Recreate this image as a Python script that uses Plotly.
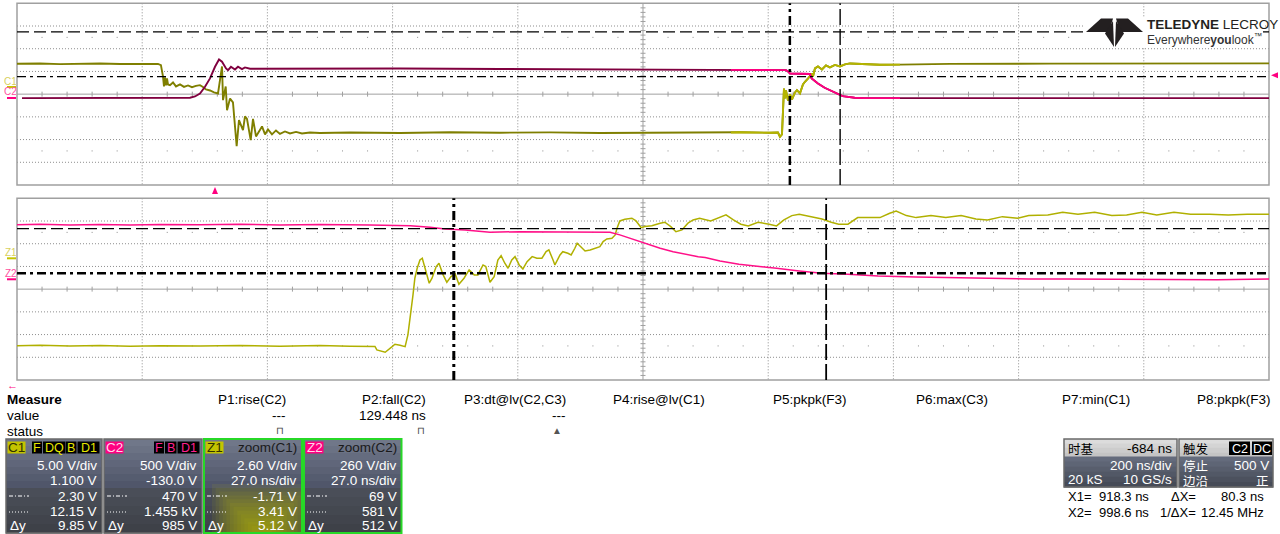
import plotly.graph_objects as go

W, H = 1280, 534
FONT = "Liberation Sans, Arial, sans-serif"
CJK = "Noto Sans CJK SC, Liberation Sans, sans-serif"

# ---------------- waveform data ----------------
# Top panel: C1 (V) and C2 (V) versus time (ns, trigger at 0)
c1_t = [-316.3, -279.6, -247.6, -215.7, -183.7, -151.8, -119.8, -91.1, -86.4, -83.1,
        -81.5, -79.9, -78.3, -76.7, -75.1, -71.9, -67.1, -62.3, -55.9, -49.5,
        -43.1, -36.8, -30.4, -24.0, -19.2, -14.4, -8.0, -1.6, 4.8, 8.0,
        11.2, 12.8, 17.1, 19.2, 24.0, 28.7, 34.6, 38.3, 44.7, 47.9,
        51.1, 57.0, 60.7, 65.5, 68.7, 75.1, 79.9, 84.6, 91.0, 97.4,
        103.8, 111.8, 119.8, 129.4, 138.9, 151.7, 167.7, 215.6, 295.5, 375.4,
        455.2, 535.1, 615.0, 694.8, 774.7, 824.2, 838.6, 886.5, 899.3, 902.5,
        905.7, 908.9, 910.5, 912.1, 915.3, 918.5, 921.7, 926.5, 929.6, 934.4,
        939.2, 942.4, 947.5, 953.1, 955.2, 958.4, 963.2, 969.6, 976.0, 982.3,
        990.3, 998.3, 1006.3, 1014.3, 1062.2, 1094.2, 1174.0, 1333.8, 1493.5, 1683.7]
c1_v = [5.13, 5.2, 5.05, 5.13, 5.2, 5.09, 5.13, 5.09, 4.83, 2.34,
        0.14, 2.12, 0.36, 1.9, 0.58, 0.42, 1.02, 0.14, 0.58, 0.03,
        0.36, -0.02, 0.25, 0.42, 0.03, -0.52, -0.75, -1.19, -1.41, 1.46,
        4.54, -2.88, 0.14, -5.08, -2.51, -3.39, -13.01, -7.29, -9.49, -6.47,
        -7.01, -11.69, -7.01, -10.87, -10.21, -8.67, -10.43, -9.33, -10.43, -9.55,
        -10.32, -9.77, -10.21, -9.88, -10.21, -9.99, -10.1, -10.0, -10.1, -9.95,
        -10.05, -9.98, -10.1, -10.0, -10.05, -10.0, -9.95, -10.05, -10.0, -10.94,
        -10.43, -0.31, -2.51, -0.75, -2.95, -1.63, -2.73, -1.19, -0.68, -1.41,
        0.58, 1.17, 1.9, 3.0, 2.34, 4.1, 4.54, 3.88, 4.76, 4.32,
        4.87, 4.54, 4.98, 5.2, 4.9, 4.95, 5.1, 5.15, 5.2, 5.22]

c2_t = [-308.3, -247.6, -183.7, -119.8, -55.9, -39.9, -32.0, -24.0, -16.0, -8.0,
        0.0, 6.4, 11.2, 17.6, 20.8, 25.5, 31.9, 36.7, 43.1, 47.9,
        55.9, 135.8, 295.5, 455.2, 615.0, 774.7, 824.2, 912.1, 915.3, 918.5,
        934.4, 950.3, 953.1, 963.2, 973.9, 986.7, 1002.6, 1021.8, 1037.8, 1094.2,
        1253.9, 1413.7, 1573.4, 1683.7]
c2_v = [-4, 0, -8, 0, -4, 5, 33, 99, 247, 430,
        687, 848, 797, 650, 612, 687, 628, 687, 635, 672,
        643, 650, 650, 639, 635, 621, 618, 612, 584, 540,
        533, 529, 430, 320, 225, 137, 40, 5, -4, -4,
        0, -6, -2, -4]

# Bottom panel: zoom traces Z1 (of C1) and Z2 (of C2)
z1_t = [824.1, 829.1, 835.5, 842.0, 848.5, 854.9, 863.6, 872.2, 880.8, 889.4,
        895.9, 901.3, 901.7, 903.5, 905.0, 905.6, 906.7, 907.8, 908.4, 909.1,
        909.5, 909.9, 910.4, 911.0, 911.5, 912.1, 913.0, 913.6, 914.5, 915.1,
        916.0, 916.8, 917.7, 918.6, 919.4, 920.5, 921.6, 922.7, 923.5, 924.6,
        925.2, 926.1, 927.0, 927.8, 928.5, 929.3, 930.0, 930.8, 931.5, 932.4,
        933.2, 934.1, 935.2, 936.2, 937.3, 938.2, 938.8, 939.7, 940.1, 941.2,
        941.8, 942.9, 943.6, 944.4, 944.9, 945.9, 946.6, 947.7, 949.0, 949.8,
        950.5, 951.3, 952.4, 953.1, 953.5, 954.1, 955.2, 956.7, 957.6, 958.7,
        959.5, 961.0, 962.8, 963.8, 965.1, 966.2, 967.5, 968.8, 969.9, 971.3,
        973.7, 975.3, 977.0, 978.6, 980.2, 981.8, 983.9, 986.3, 987.9, 989.5,
        991.2, 992.8, 995.2, 997.7, 999.7, 1001.3, 1003.3, 1005.4, 1007.4, 1010.2,
        1012.3, 1013.7, 1015.9, 1018.0, 1021.2, 1024.4, 1027.7, 1030.9, 1033.4, 1036.6,
        1039.9, 1042.3, 1046.4, 1049.6, 1052.9, 1056.5, 1060.2, 1063.4, 1066.7, 1069.9,
        1073.6, 1077.2, 1081.3, 1085.3, 1089.4, 1094.1]
z1_v = [-10.0, -9.95, -10.03, -9.98, -10.07, -10.0, -10.03, -9.98, -10.06, -9.99,
        -10.07, -10.09, -10.49, -10.75, -10.11, -9.84, -9.95, -10.11, -8.77, -6.11,
        -4.19, -2.28, -1.14, -0.19, 0.01, -1.14, -2.85, -2.28, -0.95, -0.56,
        -1.90, -2.74, -2.10, -1.79, -2.97, -2.28, -1.33, -1.90, -1.90, -0.76,
        -0.95, -2.74, -2.10, -0.19, 0.31, -0.56, -1.14, -0.19, 0.19, -0.76,
        -1.22, -0.38, 0.19, 0.01, 0.01, 0.76, 0.96, -0.19, -0.76, 0.39,
        0.76, 0.58, 0.39, 1.15, 1.73, 1.22, 0.84, 0.96, 1.15, 1.34,
        1.91, 2.22, 2.30, 2.68, 3.44, 4.28, 4.47, 4.59, 4.28, 3.51,
        3.63, 3.74, 4.02, 4.13, 3.63, 3.05, 3.25, 4.02, 4.39, 4.59,
        4.28, 4.59, 4.97, 4.39, 3.90, 3.71, 4.13, 3.90, 3.71, 4.39,
        4.89, 5.05, 4.77, 4.51, 4.13, 3.90, 3.90, 4.66, 4.66, 4.66,
        5.16, 5.42, 4.89, 4.66, 4.89, 4.66, 4.89, 4.51, 4.39, 4.77,
        4.59, 4.89, 4.97, 5.28, 5.05, 5.28, 4.89, 4.97, 5.28, 4.97,
        5.28, 5.05, 5.05, 4.97, 5.05, 5.05]

z2_t = [824.1, 829.1, 835.5, 842.0, 848.5, 854.9, 863.6, 872.2, 880.8, 889.4,
        900.2, 908.9, 913.2, 916.4, 920.7, 926.1, 932.6, 939.0, 945.5, 952.0,
        954.1, 956.3, 958.5, 960.6, 962.8, 965.6, 968.2, 971.0, 972.5, 975.7,
        979.8, 983.9, 987.9, 992.8, 997.7, 1003.3, 1009.8, 1017.9, 1026.0, 1034.2,
        1042.3, 1050.4, 1058.6, 1066.7, 1074.8, 1082.9, 1094.1]
z2_v = [625, 630, 622, 628, 620, 628, 624, 630, 622, 628,
        622, 614, 596, 576, 565, 539, 545, 545, 545, 539,
        508, 470, 431, 393, 355, 316, 287, 259, 248, 210,
        172, 153, 126, 95, 69, 58, 38, 27, 19, 12,
        4, 4, 0, 4, -4, -4, 4]

# ---------------- scope settings ----------------
TOP_T0, TOP_TDIV = -316.3, 200.0
ZOOM_T0, ZOOM_TDIV = 824.1, 27.0
C1_CENTER, C1_VDIV = -1.56, 5.0
C2_CENTER, C2_VDIV = 84.0, 500.0
Z1_CENTER, Z1_VDIV = -3.53, 2.6
Z2_CENTER, Z2_VDIV = -113.0, 260.0
CURSOR_T = [918.3, 998.6]
C1_CURSOR_V = [2.30, 12.15]
Z1_CURSOR_V = [-1.71, 3.41]
TRIG_LEVEL = 500.0
TRIG_T = 0.0

measure_names = ["P1:rise(C2)", "P2:fall(C2)", "P3:dt@lv(C2,C3)", "P4:rise@lv(C1)",
                 "P5:pkpk(F3)", "P6:max(C3)", "P7:min(C1)", "P8:pkpk(F3)"]
measure_values = ["---", "129.448 ns", "---", "", "", "", "", ""]
measure_status = ["pulse", "pulse", "warn", "", "", "", "", ""]

ch_labels = ["C1", "C2", "Z1", "Z2"]
ch_titles = ["", "", "zoom(C1)", "zoom(C2)"]
ch_flags = [["F", "DQ", "B", "D1"], ["F", "B", "D1"], [], []]
ch_scale = ["5.00 V/div", "500 V/div", "2.60 V/div", "260 V/div"]
ch_offset = ["1.100 V", "-130.0 V", "27.0 ns/div", "27.0 ns/div"]
ch_cur1 = ["2.30 V", "470 V", "-1.71 V", "69 V"]
ch_cur2 = ["12.15 V", "1.455 kV", "3.41 V", "581 V"]
ch_dy = ["9.85 V", "985 V", "5.12 V", "512 V"]

tb_title, tb_delay, tb_div, tb_samples, tb_rate = "时基", "-684 ns", "200 ns/div", "20 kS", "10 GS/s"
trig_title, trig_src, trig_mode, trig_level_txt, trig_type, trig_slope = "触发", ["C2", "DC"], "停止", "500 V", "边沿", "正"
cursor_rows = [("X1=", "918.3 ns", "ΔX=", "80.3 ns"), ("X2=", "998.6 ns", "1/ΔX=", "12.45 MHz")]

# colours
C1_DARK, C1_BRIGHT = "#7f7f00", "#b4b400"
C2_DARK, C2_BRIGHT = "#80003f", "#ff0080"
Z1_COL, Z2_COL = "#b0b000", "#ff1088"
YEL, PINK = "#c4c400", "#ff0080"

# ---------------- helpers ----------------
shapes, ann = [], []


def X(x):
    return x / W


def Y(y):
    return 1 - y / H


def P(x, y):
    return f"{X(x):.5f},{Y(y):.5f}"


def seg_path(segs):
    return "".join(f"M{P(a, b)}L{P(c, d)}" for a, b, c, d in segs)


def rect(x0, y0, x1, y1, fill=None, line=None, lw=1, layer="above", opacity=1):
    shapes.append(dict(type="rect", xref="paper", yref="paper", x0=X(x0), x1=X(x1), y0=Y(y1), y1=Y(y0),
                       fillcolor=fill if fill else "rgba(0,0,0,0)",
                       line=dict(color=line if line else "rgba(0,0,0,0)", width=lw if line else 0),
                       layer=layer, opacity=opacity))


def txt(x, y, s, size=13.5, color="black", anchor="left", family=FONT, **kw):
    ann.append(dict(x=X(x), y=Y(y), xref="paper", yref="paper", text=s, showarrow=False,
                    xanchor=anchor, yanchor="middle", font=dict(size=size, color=color, family=family), **kw))


def mix(c0, c1, f):
    a = [int(c0[i:i + 2], 16) for i in (1, 3, 5)]
    b = [int(c1[i:i + 2], 16) for i in (1, 3, 5)]
    return "#" + "".join(f"{round(a[k] + (b[k] - a[k]) * f):02x}" for k in range(3))


def grad(x0, y0, x1, y1, c0, c1, n=8):
    for i in range(n):
        f = i / (n - 1) if n > 1 else 0
        rect(x0, y0 + (y1 - y0) * i / n, x1, y0 + (y1 - y0) * (i + 1) / n + 0.6, fill=mix(c0, c1, f))


# ---------------- traces ----------------
fig = go.Figure()
zoom_end = ZOOM_T0 + 10 * ZOOM_TDIV


def in_zoom(ts, vs):
    idx = [i for i, t in enumerate(ts) if ZOOM_T0 - 0.5 <= t <= zoom_end + 0.5]
    return [ts[i] for i in idx], [vs[i] for i in idx]


fig.add_trace(go.Scatter(x=c1_t, y=c1_v, mode="lines", line=dict(color=C1_DARK, width=1.9),
                         xaxis="x", yaxis="y", hoverinfo="skip"))
fig.add_trace(go.Scatter(x=c2_t, y=c2_v, mode="lines", line=dict(color=C2_DARK, width=1.9),
                         xaxis="x", yaxis="y2", hoverinfo="skip"))
zt, zv = in_zoom(c1_t, c1_v)
fig.add_trace(go.Scatter(x=zt, y=zv, mode="lines", line=dict(color=C1_BRIGHT, width=1.9),
                         xaxis="x", yaxis="y", hoverinfo="skip"))
zt, zv = in_zoom(c2_t, c2_v)
fig.add_trace(go.Scatter(x=zt, y=zv, mode="lines", line=dict(color=C2_BRIGHT, width=1.9),
                         xaxis="x", yaxis="y2", hoverinfo="skip"))
fig.add_trace(go.Scatter(x=z2_t, y=z2_v, mode="lines", line=dict(color=Z2_COL, width=1.5),
                         xaxis="x2", yaxis="y4", hoverinfo="skip"))
fig.add_trace(go.Scatter(x=z1_t, y=z1_v, mode="lines", line=dict(color=Z1_COL, width=1.5),
                         xaxis="x2", yaxis="y3", hoverinfo="skip"))

# ---------------- grids ----------------
panels = [(17, 3.3, 1269, 185), (17, 198.3, 1269, 380)]
for (L, T, R, B) in panels:
    dx, dy = (R - L) / 10, (B - T) / 8
    dotted = [(L + i * dx, T, L + i * dx, B) for i in range(1, 10) if i != 5]
    dotted += [(L, T + j * dy, R, T + j * dy) for j in range(1, 8) if j != 4]
    shapes.append(dict(type="path", xref="paper", yref="paper", path=seg_path(dotted),
                       line=dict(color="#8c8c8c", width=1, dash="1px,2px"), layer="below"))
    cx, cy = L + 5 * dx, T + 4 * dy
    solid = [(cx, T, cx, B), (L, cy, R, cy)]
    solid += [(L + k * dx / 5, cy - 2.5, L + k * dx / 5, cy + 2.5) for k in range(1, 50) if k % 5]
    solid += [(cx - 2.5, T + k * dy / 5, cx + 2.5, T + k * dy / 5) for k in range(1, 40) if k % 5]
    shapes.append(dict(type="path", xref="paper", yref="paper", path=seg_path(solid),
                       line=dict(color="#a0a0a0", width=1), layer="below"))
    dots = []
    for yy in (T + 1.5 * dy, T + 6.5 * dy):
        dots += [(L + k * dx / 5 - 0.5, yy, L + k * dx / 5 + 0.5, yy) for k in range(1, 50) if k % 5]
    shapes.append(dict(type="path", xref="paper", yref="paper", path=seg_path(dots),
                       line=dict(color="#8c8c8c", width=1), layer="below"))
    rect(L, T, R, B, line="#a0a0a0", lw=1.5, layer="below")

# ---------------- cursors ----------------
DASHDOT = "9px,4px,3px,4px"
LONGDASH = "12px,5px"
shapes.append(dict(type="line", xref="x", yref="y domain", x0=CURSOR_T[0], x1=CURSOR_T[0], y0=0, y1=1,
                   line=dict(color="black", width=2.5, dash=DASHDOT), layer="above"))
shapes.append(dict(type="line", xref="x", yref="y domain", x0=CURSOR_T[1], x1=CURSOR_T[1], y0=0, y1=1,
                   line=dict(color="black", width=1.4, dash="16px,4px"), layer="above"))
shapes.append(dict(type="line", xref="x domain", yref="y", x0=0, x1=1, y0=C1_CURSOR_V[0], y1=C1_CURSOR_V[0],
                   line=dict(color="black", width=1.2, dash=DASHDOT), layer="above"))
shapes.append(dict(type="line", xref="x domain", yref="y", x0=0, x1=1, y0=C1_CURSOR_V[1], y1=C1_CURSOR_V[1],
                   line=dict(color="black", width=1.2, dash=LONGDASH), layer="above"))
shapes.append(dict(type="line", xref="x2", yref="y3 domain", x0=CURSOR_T[0], x1=CURSOR_T[0], y0=0, y1=1,
                   line=dict(color="black", width=3, dash=DASHDOT), layer="above"))
shapes.append(dict(type="line", xref="x2", yref="y3 domain", x0=CURSOR_T[1], x1=CURSOR_T[1], y0=0, y1=1,
                   line=dict(color="black", width=1.8, dash="16px,4px"), layer="above"))
shapes.append(dict(type="line", xref="x2 domain", yref="y3", x0=0, x1=1, y0=Z1_CURSOR_V[0], y1=Z1_CURSOR_V[0],
                   line=dict(color="black", width=2.5, dash=DASHDOT), layer="above"))
shapes.append(dict(type="line", xref="x2 domain", yref="y3", x0=0, x1=1, y0=Z1_CURSOR_V[1], y1=Z1_CURSOR_V[1],
                   line=dict(color="black", width=1.3, dash=LONGDASH), layer="above"))

# ---------------- logo ----------------
rect(1084, 17, 1263, 47.5, fill="white")
LOGO = "#231f20"
for pts in [[(1086, 32), (1101, 18.5), (1113, 18.5), (1109, 32)],
            [(1143, 32), (1128, 18.5), (1116, 18.5), (1120, 32)],
            [(1105, 33.5), (1113, 21), (1114, 47)],
            [(1124, 33.5), (1116, 21), (1115, 47)]]:
    path = "M" + "L".join(P(a, b) for a, b in pts) + "Z"
    shapes.append(dict(type="path", xref="paper", yref="paper", path=path, fillcolor=LOGO,
                       line=dict(width=0), layer="above"))
txt(1145, 24.5, "<b>TELEDYNE</b> LECROY", size=13.5, color=LOGO)
txt(1145, 39, "Everywhere<b>you</b>look<sup>™</sup>", size=12, color="#333333")

# ---------------- channel ground markers / trigger markers ----------------
for yref, col, lab in [("y", YEL, "C1"), ("y2", PINK, "C2"), ("y3", YEL, "Z1"), ("y4", PINK, "Z2")]:
    shapes.append(dict(type="line", xref="paper", yref=yref, x0=X(7), x1=X(16), y0=0, y1=0,
                       line=dict(color=col, width=2), layer="above"))
    ann.append(dict(x=X(10.5), y=0, xref="paper", yref=yref, text=lab, showarrow=False, yshift=6,
                    xanchor="center", yanchor="middle",
                    font=dict(size=10, color="#d8d060" if col == YEL else "#ff50a0", family=FONT)))

half = 3 * TOP_TDIV * 10 / 1252
shapes.append(dict(type="path", xref="x", yref="paper",
                   path=f"M{TRIG_T - half},{Y(194):.5f}L{TRIG_T + half},{Y(194):.5f}L{TRIG_T},{Y(187):.5f}Z",
                   fillcolor=PINK, line=dict(width=0), layer="above"))
dv = 3 * C2_VDIV / 22.7
shapes.append(dict(type="path", xref="paper", yref="y2",
                   path=f"M{X(1271):.5f},{TRIG_LEVEL}L{X(1278):.5f},{TRIG_LEVEL + dv}L{X(1278):.5f},{TRIG_LEVEL - dv}Z",
                   fillcolor=PINK, line=dict(width=0), layer="above"))
txt(12, 385, "←", size=11, color=PINK, anchor="center")

# ---------------- measurement table ----------------
txt(5, 399, "<b>Measure</b>")
txt(5, 415, "value")
txt(5, 431, "status")
col_right = [288, 428, 568, 707, 849, 990, 1132, 1273]
status_x = [280, 421, 557]
for i, name in enumerate(measure_names):
    txt(col_right[i], 399, name, anchor="right")
    if measure_values[i]:
        txt(col_right[i], 415, measure_values[i], anchor="right")
    if measure_status[i] == "pulse":
        txt(status_x[i], 430, "⊓", size=10, color="#444444", anchor="center")
    elif measure_status[i] == "warn":
        txt(status_x[i], 430, "▲", size=10, color="#555555", anchor="center")

# ---------------- channel descriptor boxes ----------------
box_x = [(6, 102), (104, 202), (204, 302), (304, 401.5)]
flag_pos = [[(32, 42), (43, 65.5), (66, 76.5), (77.5, 99.5)], [(154, 164), (165, 176.5), (177.5, 199.5)], [], []]
row_y = [465.5, 480.5, 496, 511, 525]
for i, (x0, x1) in enumerate(box_x):
    ccol = YEL if ch_labels[i] in ("C1", "Z1") else PINK
    grad(x0, 439, x1, 488, "#707789", "#50566a", 7)
    grad(x0, 488, x1, 533, "#4a4e58", "#3e4148", 5)
    if ch_labels[i] == "Z1":
        cxg, cyg = 262, 536
        for k in range(12):
            hw = 50 - k * 3.6
            hh = 52 - k * 3.8
            rect(max(x0 + 1, cxg - hw), cyg - hh, min(x1 - 1, cxg + hw), 532, fill="#c8c000", opacity=0.085)
    border = "#27d827" if ch_labels[i].startswith("Z") else "#6a6a6a"
    rect(x0, 439, x1, 533, line=border, lw=2 if ch_labels[i].startswith("Z") else 1.5)
    rect(x0 + 1.5, 441.5, x0 + 19.5, 453.5, fill=ccol)
    txt(x0 + 10.5, 447.5, ch_labels[i], size=13.5, color="#303000" if ccol == YEL else "#ffd6ea", anchor="center")
    for (fx0, fx1), fl in zip(flag_pos[i], ch_flags[i]):
        rect(fx0, 441.5, fx1, 453.5, fill="black")
        txt((fx0 + fx1) / 2, 447.5, fl, size=12.5, color="#e8e800" if ccol == YEL else "#ff2090", anchor="center")
    if ch_titles[i]:
        txt(x1 - 3, 447.5, ch_titles[i], size=13.5, color="#1a1a1a", anchor="right")
    for r, s in enumerate([ch_scale[i], ch_offset[i], ch_cur1[i], ch_cur2[i], ch_dy[i]]):
        txt(x1 - 3, row_y[r], s, size=13.5, color="white", anchor="right")
    shapes.append(dict(type="line", xref="paper", yref="paper", x0=X(x0 + 3), x1=X(x0 + 23), y0=Y(row_y[2]), y1=Y(row_y[2]),
                       line=dict(color="white", width=1, dash="4px,2px,1px,2px"), layer="above"))
    shapes.append(dict(type="line", xref="paper", yref="paper", x0=X(x0 + 3), x1=X(x0 + 23), y0=Y(row_y[3] + 1), y1=Y(row_y[3] + 1),
                       line=dict(color="white", width=1, dash="1px,2px"), layer="above"))
    txt(x0 + 2, row_y[4], "Δy", size=13.5, color="white")

# ---------------- timebase / trigger boxes ----------------
for (x0, x1) in [(1064, 1177), (1179, 1273)]:
    grad(x0, 439, x1, 456.5, "#dcdcdc", "#c4c4c4", 4)
    grad(x0, 456.5, x1, 487, "#646b7c", "#464b57", 6)
    rect(x0, 439, x1, 487, line="#6a6a6a", lw=1.5)
txt(1066, 448, tb_title, size=12.5, family=CJK)
txt(1174, 448, tb_delay, anchor="right")
txt(1174, 465, tb_div, color="white", anchor="right")
txt(1066, 479.5, tb_samples, color="white")
txt(1174, 479.5, tb_rate, color="white", anchor="right")
txt(1181, 448, trig_title, size=12.5, family=CJK)
for (fx0, fx1), s in zip([(1229, 1250), (1252, 1272)], trig_src):
    rect(fx0, 441.5, fx1, 455, fill="black")
    txt((fx0 + fx1) / 2, 448.5, s, size=12.5, color="white", anchor="center")
txt(1181, 465, trig_mode, size=12.5, color="white", family=CJK)
txt(1271, 465, trig_level_txt, color="white", anchor="right")
txt(1181, 480, trig_type, size=12.5, color="white", family=CJK)
txt(1271, 480, trig_slope, size=12.5, color="white", anchor="right", family=CJK)
for r, (a, b, c, d) in enumerate(cursor_rows):
    yy = 496.5 + r * 15.8
    txt(1066, yy, a, size=13)
    txt(1151, yy, b, size=13, anchor="right")
    txt(1198, yy, c, size=13, anchor="right")
    txt(1266, yy, d, size=13, anchor="right")

# ---------------- layout ----------------
dom_x = [17 / W, 1269 / W]
fig.update_layout(
    width=W, height=H, margin=dict(l=0, r=0, t=0, b=0),
    paper_bgcolor="white", plot_bgcolor="rgba(0,0,0,0)", showlegend=False,
    xaxis=dict(domain=dom_x, range=[TOP_T0, TOP_T0 + 10 * TOP_TDIV], visible=False, anchor="y", fixedrange=True),
    yaxis=dict(domain=[1 - 185 / H, 1 - 3.3 / H], range=[C1_CENTER - 4 * C1_VDIV, C1_CENTER + 4 * C1_VDIV],
               visible=False, anchor="x", fixedrange=True),
    yaxis2=dict(overlaying="y", range=[C2_CENTER - 4 * C2_VDIV, C2_CENTER + 4 * C2_VDIV], visible=False,
                anchor="x", fixedrange=True),
    xaxis2=dict(domain=dom_x, range=[ZOOM_T0, ZOOM_T0 + 10 * ZOOM_TDIV], visible=False, anchor="y3", fixedrange=True),
    yaxis3=dict(domain=[1 - 380 / H, 1 - 198.3 / H], range=[Z1_CENTER - 4 * Z1_VDIV, Z1_CENTER + 4 * Z1_VDIV],
                visible=False, anchor="x2", fixedrange=True),
    yaxis4=dict(overlaying="y3", range=[Z2_CENTER - 4 * Z2_VDIV, Z2_CENTER + 4 * Z2_VDIV], visible=False,
                anchor="x2", fixedrange=True),
    shapes=shapes, annotations=ann,
    font=dict(family=FONT),
)
fig.write_html("out.html", config={"displayModeBar": False},
               post_script="document.body.style.margin='0';document.body.style.overflow='hidden';")
